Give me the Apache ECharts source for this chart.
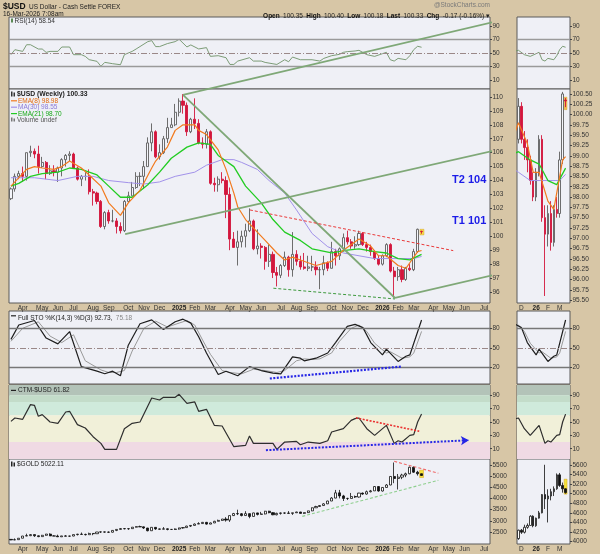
<!DOCTYPE html>
<html><head><meta charset="utf-8">
<script src="https://cdn.jsdelivr.net/npm/echarts@6/dist/echarts.min.js"></script>
<style>html,body{margin:0;padding:0;background:#d7c6a6}#c{width:600px;height:554px}</style>
</head><body><div id="c"></div><script>
// ---------- DATA ----------
const weekStart = '2024-03-11';
const nWeeks = 123;
const monthLabels = [[3,'Apr'],[8,'May'],[12,'Jun'],[16,'Jul'],[21,'Aug'],[25,'Sep'],[30,'Oct'],[34,'Nov'],[38,'Dec'],[43,'2025'],[47,'Feb'],[51,'Mar'],[56,'Apr'],[60,'May'],[64,'Jun'],[69,'Jul'],[73,'Aug'],[77,'Sep'],[82,'Oct'],[86,'Nov'],[90,'Dec'],[95,'2026'],[99,'Feb'],[103,'Mar'],[108,'Apr'],[112,'May'],[116,'Jun'],[121,'Jul']];
const smallLabels = [[90,'D'],[95,'26'],[99,'F'],[103,'M']];
const smallStart = 89, smallEnd = 106;

// $USD weekly [open, high, low, close]
const usdOHLC = [
[102.7,103.5,102.6,103.4],[103.4,104.5,103.2,104.3],[104.3,104.7,104.1,104.5],[104.5,105.0,103.9,104.3],[104.3,106.0,104.0,106.0],
[106.0,106.5,105.7,106.1],[106.1,106.3,105.6,105.9],[105.9,106.5,104.5,105.0],[105.0,105.7,104.9,105.3],[105.3,105.4,104.1,104.5],
[104.5,105.1,104.4,104.7],[104.7,105.1,104.3,104.6],[104.6,105.0,103.9,104.9],[104.9,105.6,104.3,105.5],[105.5,105.9,105.0,105.8],
[105.8,106.1,105.4,105.9],[105.9,106.0,104.9,104.9],[104.9,105.0,104.0,104.1],[104.1,104.4,103.6,104.3],[104.3,104.6,104.0,104.3],
[104.3,104.8,103.0,103.2],[103.2,103.4,102.2,103.1],[103.1,103.2,102.3,102.5],[102.5,102.6,100.6,100.7],[100.7,101.8,100.5,101.7],
[101.7,101.9,100.9,101.1],[101.1,101.9,101.0,101.1],[101.1,101.3,100.2,100.7],[100.7,101.0,100.2,100.4],[100.4,102.6,100.3,102.5],
[102.5,103.2,102.4,102.9],[102.9,103.9,102.9,103.5],[103.5,104.6,103.4,104.3],[104.3,104.6,103.6,104.3],[104.3,105.4,103.4,105.0],
[105.0,107.1,105.0,106.7],[106.7,108.1,106.1,107.5],[107.5,107.6,105.6,105.7],[105.7,106.6,105.5,106.0],[106.0,107.2,105.9,107.0],
[107.0,108.5,106.7,107.8],[107.8,108.5,107.8,108.0],[108.0,109.5,107.9,108.9],[108.9,109.9,108.6,109.7],[109.7,110.2,108.8,109.4],
[109.4,109.6,107.2,107.5],[107.5,108.5,107.4,108.4],[108.4,109.9,107.7,108.1],[108.1,108.4,106.6,106.7],[106.7,107.1,106.3,106.6],
[106.6,107.7,106.3,107.5],[107.5,107.6,103.7,103.8],[103.8,104.2,103.2,103.7],[103.7,104.3,103.2,104.1],[104.1,104.6,103.8,104.0],
[104.0,104.3,101.3,103.0],[103.0,103.5,99.0,99.8],[99.8,100.3,99.2,99.2],[99.2,100.4,97.9,99.6],[99.6,100.4,99.2,100.0],
[100.0,100.9,99.2,100.4],[100.4,102.0,100.3,101.1],[101.1,101.2,99.0,99.1],[99.1,100.5,98.7,99.3],[99.3,99.5,98.4,99.2],
[99.2,99.3,97.6,98.2],[98.2,99.4,97.8,98.7],[98.7,98.9,97.0,97.4],[97.4,97.8,96.4,97.2],[97.2,98.0,97.0,97.9],
[97.9,98.9,97.8,98.5],[98.5,98.6,97.1,97.6],[97.6,100.3,97.1,98.7],[98.7,99.0,97.9,98.2],[98.2,98.6,97.6,97.8],
[97.8,98.8,97.6,97.7],[97.7,98.6,97.5,97.8],[97.8,98.6,97.5,97.8],[97.8,98.2,97.2,97.6],[97.6,97.8,96.2,97.6],
[97.6,98.6,97.2,98.1],[98.1,98.2,97.5,97.7],[97.7,99.6,97.7,98.9],[98.9,99.1,97.9,98.6],[98.6,99.2,98.3,99.1],
[99.1,100.2,98.9,99.9],[99.9,100.4,99.4,99.6],[99.6,99.8,99.1,99.3],[99.3,100.0,99.1,99.4],[99.4,100.4,99.3,100.2],
[100.2,100.3,99.3,99.4],[99.4,99.6,98.9,99.2],[99.2,99.4,98.6,98.9],[98.9,99.0,98.3,98.4],[98.4,98.6,97.9,98.0],
[98.0,98.7,97.9,98.6],[98.6,99.5,98.5,99.4],[99.4,99.5,97.4,97.5],[97.5,97.8,95.6,97.1],[97.1,97.8,96.8,97.6],
[97.6,97.9,96.7,96.9],[96.9,97.8,96.8,97.7],[97.7,98.0,97.5,97.6],[97.6,99.1,97.5,98.9],[98.9,100.55,98.8,100.5],
[100.35,100.40,100.18,100.33]
];

// $GOLD weekly [open, high, low, close]
const goldOHLC = [
[2179,2180,2146,2155],[2155,2222,2146,2165],[2165,2236,2160,2230],[2230,2330,2228,2329],[2329,2431,2326,2344],
[2344,2417,2324,2391],[2391,2392,2291,2337],[2337,2353,2277,2302],[2302,2378,2292,2360],[2360,2422,2340,2415],
[2415,2450,2325,2334],[2334,2364,2325,2327],[2327,2388,2287,2293],[2293,2335,2290,2333],[2333,2368,2317,2321],
[2321,2339,2293,2327],[2327,2392,2319,2392],[2392,2424,2353,2411],[2411,2484,2398,2400],[2400,2432,2353,2387],
[2387,2477,2380,2443],[2443,2450,2364,2431],[2431,2509,2430,2507],[2507,2531,2470,2512],[2512,2528,2475,2503],
[2503,2529,2471,2497],[2497,2586,2485,2578],[2578,2625,2546,2622],[2622,2685,2615,2658],[2658,2670,2624,2653],
[2653,2658,2603,2657],[2657,2721,2645,2721],[2721,2758,2708,2747],[2747,2790,2730,2736],[2736,2750,2643,2685],
[2685,2690,2536,2563],[2563,2721,2560,2715],[2715,2722,2605,2643],[2643,2658,2613,2633],[2633,2726,2630,2648],
[2648,2665,2583,2622],[2622,2638,2603,2621],[2621,2665,2596,2640],[2640,2697,2615,2690],[2690,2725,2657,2703],
[2703,2786,2697,2770],[2770,2817,2731,2800],[2800,2887,2792,2861],[2861,2942,2860,2883],[2883,2954,2877,2936],
[2936,2956,2832,2858],[2858,2930,2855,2910],[2910,3005,2906,2984],[2984,3057,2980,3023],[3023,3086,3005,3084],
[3084,3168,2970,3037],[3037,3245,2957,3237],[3237,3357,3220,3327],[3327,3500,3260,3319],[3319,3352,3202,3240],
[3240,3435,3238,3325],[3325,3335,3120,3200],[3200,3365,3195,3357],[3357,3366,3245,3290],[3290,3403,3290,3310],
[3310,3446,3293,3432],[3432,3452,3340,3368],[3368,3398,3255,3274],[3274,3365,3248,3337],[3337,3375,3282,3355],
[3355,3377,3310,3350],[3350,3438,3325,3337],[3337,3363,3268,3363],[3363,3409,3353,3398],[3398,3404,3330,3336],
[3336,3378,3311,3371],[3371,3453,3351,3447],[3447,3600,3436,3586],[3586,3674,3576,3643],[3643,3707,3628,3685],
[3685,3791,3680,3760],[3760,3897,3750,3886],[3886,4059,3884,4018],[4018,4380,4010,4250],[4250,4381,4004,4113],
[4113,4161,3887,4002],[4002,4030,3930,4000],[4000,4245,3997,4085],[4085,4130,4022,4065],[4065,4250,4040,4239],
[4239,4264,4162,4197],[4197,4353,4171,4300],[4300,4380,4270,4338],[4338,4550,4337,4530],[4530,4549,4300,4332],
[4332,4500,4310,4490],[4490,4640,4480,4600],[4600,4990,4590,4980],[4980,5600,4680,4890],[4890,5090,4400,4950],
[4950,5100,4860,5040],[5040,5150,4950,5100],[5100,5420,5080,5390],[5390,5430,5140,5170],[5170,5230,5020,5100],
[5100,5110,5000,5022]
];

// moving averages: [weekIndex, value]
const ema8 = [[0,103.6],[4,104.8],[6,105.0],[8,104.9],[11,104.8],[13,105.0],[15,105.4],[18,104.9],[20,104.4],[23,103.6],[25,102.4],[28,101.5],[30,102.4],[33,103.3],[36,104.9],[37,105.4],[40,106.4],[42,107.6],[44,108.0],[47,108.0],[48,107.6],[50,107.3],[53,106.2],[55,104.8],[57,103.1],[58,102.1],[60,101.2],[63,100.3],[65,99.7],[68,98.8],[70,98.3],[72,98.5],[74,98.3],[78,97.9],[82,98.2],[85,99.0],[89,99.8],[92,99.3],[94,98.6],[96,98.6],[99,97.9],[101,97.7],[102,98.1],[104,98.9],[105,98.98]];
const ema21 = [[0,103.6],[2,103.8],[5,104.3],[8,104.5],[12,104.6],[15,104.9],[18,104.8],[22,104.4],[25,103.6],[28,102.8],[31,102.8],[35,103.7],[38,104.6],[41,105.6],[45,106.4],[48,106.7],[51,106.6],[53,105.8],[57,105.0],[60,103.6],[64,102.4],[67,101.2],[70,100.3],[74,99.7],[77,99.1],[82,98.8],[86,99.0],[89,99.1],[93,98.9],[96,98.8],[99,98.4],[102,98.3],[105,98.70]];
const ma30 = [[0,104.2],[6,104.2],[12,104.0],[17,104.3],[21,104.3],[25,104.0],[30,103.85],[34,103.75],[38,103.9],[42,104.3],[47,104.6],[50,105.1],[54,105.5],[57,105.5],[59,105.3],[63,104.8],[66,104.0],[70,103.1],[73,101.9],[77,100.2],[81,99.25],[85,98.8],[89,98.6],[93,98.4],[99,98.4],[103,98.4],[105,98.55]];

const rsi = [[0,47.5],[1,54.9],[3,52.4],[4,62.3],[5,62.3],[7,55.9],[8,55.9],[9,50.9],[10,52.4],[12,52.4],[13,58.9],[15,58.9],[16,47.5],[18,47.5],[19,45],[20,40.1],[22,37.6],[23,30.2],[24,36.1],[26,34.1],[28,32.6],[29,47.5],[31,52.4],[32,55.9],[35,66.9],[36,68.4],[37,59.5],[38,59.5],[40,64],[42,66.9],[43,70.4],[45,59],[46,62],[48,56],[50,58],[51,45],[53,46],[55,43],[56,33],[57,33],[58,38],[61,43],[62,38],[64,38],[65,36],[67,34],[68,33],[70,40],[71,37],[72,44],[74,40],[77,40],[79,38],[80,42],[82,46],[84,48],[85,51],[86,52],[88,53],[89,54],[91,47.5],[93,45],[95,49],[96,51],[97,40],[98,38],[99,42],[101,40],[102,46],[103,55],[104,60],[105,58.54]];

const stoK = [[0,63],[2,85],[6,92],[9,65],[12,56],[15,75],[18,21],[22,14],[24,10],[26,14],[28,7],[30,54],[33,87],[36,93],[39,78],[42,90],[44,94],[46,88],[48,67],[50,42],[53,9],[55,14],[58,7],[61,21],[64,15],[67,11],[69,10],[72,36],[74,34],[75,30],[78,34],[81,42],[83,58],[86,83],[88,86],[90,81],[92,58],[95,39],[96,48],[99,29],[101,37],[102,39],[105,92.73]];
const stoD = [[0,60],[3,80],[7,90],[10,68],[13,58],[16,70],[19,30],[23,16],[25,12],[27,12],[29,15],[31,45],[34,80],[37,91],[40,82],[43,88],[45,92],[47,85],[49,62],[51,40],[54,15],[56,12],[59,10],[62,17],[65,15],[68,12],[70,15],[73,30],[75,33],[77,32],[79,33],[82,42],[84,60],[87,80],[89,85],[91,75],[93,57],[96,42],[97,44],[100,34],[102,36],[103,42],[105,75.18]];

const ctm = [[0,51],[1,56],[3,54],[5,76],[6,75],[7,58.5],[8,61],[10,50],[12,48],[14,65],[15,66],[17,46],[19,41],[21,28],[23,18],[24,9],[27,9],[29,40],[31,48],[33,50],[36,86],[38,83],[39,87],[42,87],[43,91.5],[45,78],[47,80],[48,66],[50,69],[52,45],[54,44],[57,13],[60,15],[61,29],[62,18],[67,18],[68,9],[70,20],[73,21],[74,16],[76,20],[79,18],[81,22],[82,35],[85,40],[87,52.5],[88,55],[89,56],[91,40],[93,30],[96,45],[98,18],[99,22],[100,20],[102,30],[103,31],[104,50],[105,61.82]];

// trendline anchors [weekIndex, value]
const chanUpper = [[44,110.15],[128.9,115.74]];
const chanDown = [[44,110.15],[98.2,95.57]];
const chanMid = [[29.2,100.16],[128.9,106.48]];
const chanLow = [[98.2,95.57],[128.9,97.58]];
const usdRedLine = [[61.1,101.89],[113.1,98.97]];
const usdGreenLine = [[67.1,96.27],[98.2,95.5]];
const stoBlueLine = [[66.2,2.8],[100,21.2]];
const ctmRedLine = [[88.2,56.3],[104.4,36.2]];
const ctmBlueArrow = [[65.2,7.8],[117.1,22.7]];
const goldRedLine = [[98,5653],[109.3,5126]];
const goldGreenLine = [[74.5,3203],[109.3,4811]];

const usdTicks = [96,97,98,99,100,101,102,103,104,105,106,107,108,109,110];
const usdSmallTicks = [95.5,95.75,96,96.25,96.5,96.75,97,97.25,97.5,97.75,98,98.25,98.5,98.75,99,99.25,99.5,99.75,100,100.25,100.5];
const rsiTicks = [10,30,50,70,90];
const stoTicks = [20,50,80];
const ctmTicks = [10,30,50,70,90];
const goldTicks = [2500,3000,3500,4000,4500,5000,5500];
const goldSmallTicks = [4000,4200,4400,4600,4800,5000,5200,5400,5600];

// ---------- BUILD ----------
const cats = [];
{ let t = Date.parse(weekStart + 'T00:00:00Z'); for (let k = 0; k < nWeeks; k++) { cats.push(new Date(t).toISOString().slice(0,10)); t += 7*864e5; } }
const catsSmall = cats.slice(smallStart, smallEnd + 1);
const lblMain = {}; monthLabels.forEach(([i,t]) => lblMain[i] = t);
const lblSmall = {}; smallLabels.forEach(([i,t]) => lblSmall[i - smallStart] = t);
const toCandle = r => [r[0], r[3], r[2], r[1]];
const usdC = usdOHLC.map(toCandle), goldC = goldOHLC.map(toCandle);

const FONT = 'Liberation Sans';
const BG = '#eff0f6';
const L = {left: 9, width: 481}, R = {left: 517, width: 53};
const rows = [{top:17,height:72},{top:89,height:214},{top:311,height:73},{top:385,height:74},{top:459,height:85}];
const grids = [];
rows.forEach(r => [L, R].forEach(c => grids.push({left:c.left, top:r.top, width:c.width, height:r.height, show:true, backgroundColor:BG, borderColor:'#5a5a5a', borderWidth:1})));

const xAxes = [];
grids.forEach((g, gi) => {
  const row = Math.floor(gi / 2), small = gi % 2 === 1;
  const lmap = small ? lblSmall : lblMain;
  const showLbl = row === 1 || row === 4;
  xAxes.push({gridIndex: gi, type:'category', data: small ? catsSmall : cats, boundaryGap:true,
    axisLine:{show:false, onZero:false}, axisTick:{show:false}, splitLine:{show:false},
    axisLabel:{show: showLbl, margin: 1.5, fontSize: 6.5, color:'#333', fontFamily: FONT,
      interval: (idx) => lmap[idx] !== undefined,
      formatter: (v, idx) => { const t = lmap[idx]; if (t === undefined) return ''; return /^\d+$/.test(t) ? '{y|' + t + '}' : t; },
      rich: {y: {fontWeight:'bold', fontSize: 6.5, color:'#222', fontFamily: FONT}}}});
  xAxes.push({gridIndex: gi, type:'value', min: small ? smallStart - 0.5 : -0.5, max: small ? smallEnd + 0.5 : nWeeks - 0.5, show:false,
    axisLine:{onZero:false}});
});

function yAx(gi, min, max, ticks, fmt) {
  return {gridIndex: gi, type:'value', position:'right', min, max, scale:true,
    axisLine:{show:false, onZero:false}, splitLine:{show:false},
    axisTick:{show:true, length:2, inside:false, customValues: ticks, lineStyle:{color:'#444'}},
    axisLabel:{show:true, margin:2.5, fontSize:6.5, color:'#333', fontFamily: FONT, customValues: ticks, formatter: fmt || (v => String(v))}};
}
const yAxes = [
  yAx(0, -3.5, 103.5, rsiTicks), yAx(1, -3.5, 103.5, rsiTicks),
  yAx(2, 95.21, 110.57, usdTicks), yAx(3, 95.43, 100.62, usdSmallTicks, v => v.toFixed(2)),
  yAx(4, -5.7, 106.6, stoTicks), yAx(5, -5.7, 106.6, stoTicks),
  yAx(6, -5.4, 105.4, ctmTicks), yAx(7, -5.4, 105.4, ctmTicks),
  yAx(8, 1973, 5757, goldTicks), yAx(9, 3952, 5720, goldSmallTicks)
];

const series = [];
function line(gi, data, color, width, extra) {
  series.push(Object.assign({type:'line', xAxisIndex: 2*gi+1, yAxisIndex: gi, data, symbol:'none', silent:true, animation:false,
    lineStyle:{color, width}, z: 3}, extra || {}));
}
const solidGuide = (y, c) => ({yAxis: y, lineStyle:{color: c || '#8c8c8c', width: 1.3, type:'solid'}});
const dashDot = (y) => ({yAxis: y, lineStyle:{color:'#9a8888', width: 1, type:[6,2,1,2]}});
function guides(list) { return {silent:true, symbol:'none', label:{show:false}, animation:false, data: list}; }
function trend(gi, pts, color, width, type, clip) {
  line(gi, pts, color, width, {lineStyle:{color, width, type}, clip: clip === undefined ? true : clip, z: 6});
}
function highlight(gi, x0, x1, y0, y1, color) {
  series.push({type:'line', xAxisIndex: 2*gi+1, yAxisIndex: gi, data: [[x0, y0]], symbol:'none', silent:true, lineStyle:{opacity:0}, z:1,
    markArea:{silent:true, itemStyle:{color, borderColor:'#d8a020', borderWidth:0.5}, data:[[{coord:[x0,y0]},{coord:[x1,y1]}]]}});
}

[0,1].forEach(c => {
  // RSI
  line(0 + c, rsi, '#6e9268', 0.9, {markLine: guides([solidGuide(70,'#9a9a9a'), solidGuide(30,'#9a9a9a'), dashDot(50)])});
  // main candles
  const gi = 2 + c;
  if (c === 0) highlight(gi, 104.6, 105.6, 100.1, 100.5, '#f6e04a');
  else highlight(gi, 104.55, 105.45, 100.12, 100.42, '#f6c050');
  series.push({type:'candlestick', xAxisIndex: 2*gi, yAxisIndex: gi, data: c ? usdC.slice(smallStart) : usdC,
    barWidth: c ? 2 : 2.6, silent:true, animation:false, z: 2,
    itemStyle:{color:'#f4f5fa', color0:'#d3163c', borderColor:'#5e5e5e', borderColor0:'#d3163c', borderWidth:0.9}});
  line(gi, ma30, '#a292ea', 1);
  line(gi, ema21, '#22cc22', 1.3);
  line(gi, ema8, '#f27a1e', 1.2);
  // STO
  line(4 + c, stoD, '#9a9a9a', 1, {markLine: guides([solidGuide(80,'#777'), solidGuide(20,'#777'), dashDot(50)])});
  line(4 + c, stoK, '#1e1e1e', 1.2);
  // CTM bands + line
  line(6 + c, ctm, '#000', 0, {lineStyle:{opacity:0}, z:1, markArea:{silent:true, data:[
    [{yAxis:90, itemStyle:{color:'#b3c3b8'}},{yAxis:106}],
    [{yAxis:80, itemStyle:{color:'#c3dcc9'}},{yAxis:90}],
    [{yAxis:60, itemStyle:{color:'#cfeadb'}},{yAxis:80}],
    [{yAxis:20, itemStyle:{color:'#f1f0d9'}},{yAxis:60}],
    [{yAxis:-6, itemStyle:{color:'#f0dae4'}},{yAxis:20}]]}});
  line(6 + c, ctm, '#2e2e2e', 1.2);
  // GOLD
  const gg = 8 + c;
  if (c === 0) highlight(gg, 104.5, 105.5, 4930, 5260, '#f3e23a');
  else highlight(gg, 104.5, 105.5, 4990, 5300, '#f3e23a');
  series.push({type:'candlestick', xAxisIndex: 2*gg, yAxisIndex: gg, data: c ? goldC.slice(smallStart) : goldC,
    barWidth: c ? 2 : 2.6, silent:true, animation:false, z: 2,
    itemStyle:{color:'#ffffff', color0:'#111111', borderColor:'#111111', borderColor0:'#111111', borderWidth:0.8}});
});

// annotations (left panels)
const GREEN = '#7fa877';
trend(2, chanUpper, GREEN, 1.8, 'solid', false);
trend(2, chanDown, GREEN, 1.8, 'solid', false);
trend(2, chanMid, GREEN, 1.8, 'solid', false);
trend(2, chanLow, GREEN, 1.8, 'solid', false);
trend(2, usdRedLine, '#ea3a3a', 1, [3,2]);
trend(2, usdGreenLine, '#3f9a3f', 1, [3,2]);
trend(4, stoBlueLine, '#2626e6', 2.2, [2,1.5]);
trend(6, ctmRedLine, '#ea3030', 1.6, [2,1.5]);
series.push({type:'line', xAxisIndex: 13, yAxisIndex: 6, data: ctmBlueArrow, symbol:'none', silent:true, lineStyle:{opacity:0}, z:6,
  markLine:{silent:true, symbol:['none','arrow'], symbolSize:[7,8], label:{show:false}, animation:false,
    lineStyle:{color:'#2626e6', width:2, type:[2,1.5]},
    data:[[{coord: ctmBlueArrow[0]},{coord: ctmBlueArrow[1]}]]}});
trend(8, goldRedLine, '#ef6a6a', 1.1, [3,2]);
trend(8, goldGreenLine, '#8fcf8f', 1.1, [3,2]);

// ---------- TEXT ----------
const T = (x, y, text, style) => ({type:'text', left: x, top: y, silent:true, z: 50,
  style: Object.assign({text, fontFamily: FONT, fontSize: 6.5, fill:'#222'}, style || {})});
const TR = (x, y, text, style) => ({type:'text', right: 600 - x, top: y, silent:true, z: 50,
  style: Object.assign({text, fontFamily: FONT, fontSize: 6.5, fill:'#222'}, style || {})});
const R2 = (x, y, w, h, fill) => ({type:'rect', shape:{x, y, width:w, height:h}, style:{fill}, silent:true, z:50});
const graphic = [
  {type:'text', left: 3, top: 1, z:50, style:{rich:{a:{fontSize:8.5, fontWeight:'bold', fontFamily:FONT, fill:'#111'}, b:{fontSize:6.5, fontFamily:FONT, fill:'#222'}}, text:'{a|$USD} {b|US Dollar - Cash Settle FOREX}'}},
  T(3, 10.5, '16-Mar-2026 7:08am'),
  TR(490, 2, '@StockCharts.com', {fill:'#7a7a7a'}),
  {type:'text', right: 110, top: 10, z:50, style:{rich:{k:{fontWeight:'bold', fontSize:6.5, fontFamily:FONT, fill:'#111'}, v:{fontSize:6.5, fontFamily:FONT, fill:'#222'}},
    text:'{k|Open} {v|100.35} {k|High} {v|100.40} {k|Low} {v|100.18} {k|Last} {v|100.33} {k|Chg} {v|-0.17 (-0.16%) ▾}'}},
  // RSI legend
  R2(11, 18.5, 2, 4, '#5b8a55'), T(14.5, 17.5, 'RSI(14) 58.54', {fill:'#333'}),
  // main legend
  R2(11, 91.5, 1.5, 5, '#333'), R2(13.5, 92.5, 1.5, 4, '#333'),
  T(17, 91, '$USD (Weekly) 100.33', {fill:'#222', fontWeight:'bold', fontSize:6.8}),
  R2(11, 100.2, 6, 1.2, '#f27a1e'), T(18, 97.6, 'EMA(8) 98.98', {fill:'#e26a10'}),
  R2(11, 106.6, 6, 1.2, '#a292ea'), T(18, 104, 'MA(30) 98.55', {fill:'#8a7ad8'}),
  R2(11, 113, 6, 1.2, '#22cc22'), T(18, 110.4, 'EMA(21) 98.70', {fill:'#16a816'}),
  R2(11, 117.5, 1.5, 4, '#777'), R2(13.5, 118.5, 1.5, 3, '#777'), T(17, 116.8, 'Volume undef', {fill:'#555'}),
  // T targets
  T(452, 174, 'T2 104', {fill:'#1c1ce8', fontWeight:'bold', fontSize:11}),
  T(452, 215.5, 'T1 101', {fill:'#1c1ce8', fontWeight:'bold', fontSize:11}),
  // STO legend
  R2(11, 315.2, 5, 1.2, '#222'),
  {type:'text', left: 18, top: 312.5, z:50, style:{rich:{a:{fontSize:6.5, fontFamily:FONT, fill:'#222'}, b:{fontSize:6.5, fontFamily:FONT, fill:'#888'}}, text:'{a|Full STO %K(14,3) %D(3) 92.73,} {b|75.18}'}},
  // CTM legend
  R2(11, 389.8, 5, 1.2, '#222'), T(18, 386.8, 'CTM-$USD 61.82', {fill:'#222'}),
  // GOLD legend
  R2(11, 461.5, 1.5, 5, '#222'), R2(13.5, 462.5, 1.5, 4, '#222'), T(17, 460.8, '$GOLD 5022.11', {fill:'#222'})
];

const chart = echarts.init(document.getElementById('c'), null, {renderer:'canvas', width:600, height:554});
chart.setOption({backgroundColor:'#d7c6a6', animation:false, grid: grids, xAxis: xAxes, yAxis: yAxes, series, graphic});
</script></body></html>
